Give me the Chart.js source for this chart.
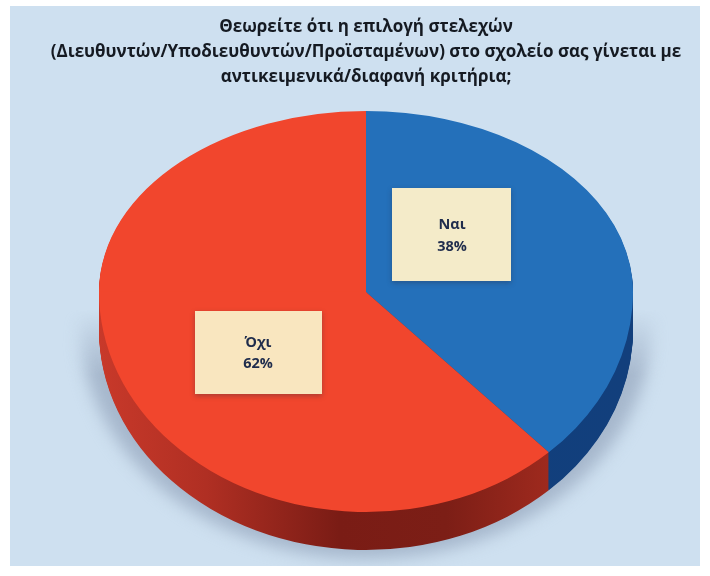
<!DOCTYPE html>
<html>
<head>
<meta charset="utf-8">
<title>Επιλογή στελεχών</title>
<script src="https://cdn.jsdelivr.net/npm/chart.js@4/dist/chart.umd.min.js"></script>
<style>
  html, body { margin: 0; padding: 0; background: #fff; }
  #wrap { position: relative; width: 710px; height: 576px; overflow: hidden; }
  canvas { display: block; filter: blur(0.4px); }
</style>
</head>
<body>
<div id="wrap"><canvas id="c" width="710" height="576"></canvas></div>
<script>
var categories = ['Ναι', 'Όχι'];
var percentValues = [38, 62];
var titleLines = [
  'Θεωρείτε ότι η επιλογή στελεχών',
  '(Διευθυντών/Υποδιευθυντών/Προϊσταμένων) στο σχολείο σας γίνεται με',
  'αντικειμενικά/διαφανή κριτήρια;'
];
var topColors = ['#2470ba', '#f1462d'];

// label boxes, one per category
var labelBoxes = [
  { x: 392, y: 188, w: 119, h: 93, fill: '#f4ebc9', cx: 452, y1: 225, y2: 247 },
  { x: 195, y: 311, w: 127, h: 83, fill: '#f9e6bf', cx: 258, y1: 343, y2: 364 }
];

var FONT = '"Open Sans", "Noto Sans", sans-serif';
var TOP_Y = 111, BOTTOM_Y = 512, DEPTH = 38;

// draw a slice squashed into the tilted disc: the hub sits above the middle
// of the ellipse, so the upper and lower halves get their own y scale
function drawSquashed(ctx, arc, dy, fill) {
  var r = arc.outerRadius;
  var copy = Object.create(arc);
  copy.options = Object.assign({}, arc.options, { backgroundColor: fill, borderWidth: 0 });
  [[-1, (arc.y - TOP_Y) / r], [1, (BOTTOM_Y - arc.y) / r]].forEach(function (part) {
    ctx.save();
    ctx.beginPath();
    if (part[0] < 0) ctx.rect(0, 0, 710, arc.y + dy + 0.5);
    else ctx.rect(0, arc.y + dy - 0.5, 710, 576);
    ctx.clip();
    ctx.translate(arc.x, arc.y + dy);
    ctx.scale(1, part[1]);
    ctx.translate(-arc.x, -arc.y);
    Chart.elements.ArcElement.prototype.draw.call(copy, ctx);
    ctx.restore();
  });
}

function sideGradient(ctx, stops) {
  var g = ctx.createLinearGradient(99, 0, 633, 0);
  stops.forEach(function (s) { g.addColorStop(s[0], s[1]); });
  return g;
}

function newLayer() {
  var layer = document.createElement('canvas');
  layer.width = 710; layer.height = 576;
  return layer;
}

var tiltedPie = {
  id: 'tiltedPie',
  beforeDraw: function (chart) {
    var ctx = chart.ctx;
    ctx.fillStyle = '#cee0f0';
    ctx.fillRect(10, 6, 690, 560);
  },
  beforeDatasetsDraw: function (chart) {
    var ctx = chart.ctx;
    var arcs = chart.getDatasetMeta(0).data;

    // soft ground shadow below the disc: shape first, then blur, then fade the top out
    var shape = newLayer();
    var sc = shape.getContext('2d');
    sc.translate(366, 330);
    sc.scale(1.07, 1.06);
    sc.translate(-366, -330);
    arcs.forEach(function (a) { drawSquashed(sc, a, 34, '#a6b7cc'); });

    var off = newLayer();
    var oc = off.getContext('2d');
    oc.filter = 'blur(8px)';
    oc.drawImage(shape, 0, 0);
    oc.filter = 'none';
    oc.globalCompositeOperation = 'destination-in';
    var mask = oc.createLinearGradient(0, 310, 0, 375);
    mask.addColorStop(0, 'rgba(0,0,0,0)');
    mask.addColorStop(1, 'rgba(0,0,0,1)');
    oc.fillStyle = mask;
    oc.fillRect(0, 0, 710, 566);
    ctx.drawImage(off, 0, 0);

    // rim of the disc
    var sides = [
      sideGradient(ctx, [[0, '#0f3f7e'], [1, '#123f7c']]),
      sideGradient(ctx, [[0, '#c8392a'], [0.2, '#b02f23'], [0.45, '#7a1c15'], [0.65, '#7c1e16'], [0.85, '#a02a1e'], [1, '#a02a1e']])
    ];
    for (var d = DEPTH; d > 0; d--) {
      arcs.forEach(function (a, i) { drawSquashed(ctx, a, d, sides[i]); });
    }

    // top face
    arcs.forEach(function (a, i) { drawSquashed(ctx, a, 0, topColors[i]); });
    return false;
  },
  afterDraw: function (chart) {
    var ctx = chart.ctx;
    ctx.textAlign = 'center';
    ctx.textBaseline = 'middle';
    ctx.fillStyle = '#151a22';
    ctx.font = 'bold 17px ' + FONT;
    titleLines.forEach(function (line, i) {
      ctx.fillText(line, 366, 27 + i * 25);
    });

    labelBoxes.forEach(function (b, i) {
      ctx.save();
      ctx.shadowColor = 'rgba(40,40,60,0.35)';
      ctx.shadowBlur = 5;
      ctx.shadowOffsetY = 2;
      ctx.fillStyle = b.fill;
      ctx.fillRect(b.x, b.y, b.w, b.h);
      ctx.restore();
      ctx.fillStyle = '#1f2c4c';
      ctx.font = 'bold 14.5px ' + FONT;
      ctx.fillText(categories[i], b.cx, b.y1);
      ctx.fillText(percentValues[i] + '%', b.cx, b.y2);
    });
  }
};

new Chart(document.getElementById('c'), {
  type: 'pie',
  data: {
    labels: categories,
    datasets: [{ data: percentValues, backgroundColor: topColors, borderWidth: 0 }]
  },
  options: {
    responsive: false,
    animation: false,
    layout: { padding: { left: 99, right: 77, top: 25, bottom: 17 } },
    plugins: { legend: { display: false }, tooltip: { enabled: false } }
  },
  plugins: [tiltedPie]
});
</script>
</body>
</html>
